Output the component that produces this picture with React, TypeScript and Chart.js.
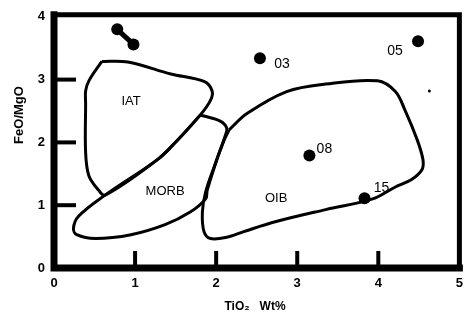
import React, { useEffect, useRef } from "react";
import { Chart, registerables } from "chart.js";

Chart.register(...registerables);

// Axis ticks and titles
const X_TICKS = [0, 1, 2, 3, 4, 5];
const Y_TICKS = [0, 1, 2, 3, 4];
const X_TITLE = "TiO₂   Wt%";
const Y_TITLE = "FeO/MgO";

// Samples
const SAMPLE_NAMES = ["03", "05", "08", "15"];
const SAMPLE_TIO2 = [2.54, 4.49, 3.15, 3.83];
const SAMPLE_FEO_MGO = [3.34, 3.61, 1.79, 1.11];

// Discrimination fields (outlines)
const IAT_X = [0.59, 0.91, 1.44, 1.85, 1.95, 1.93, 1.8, 1.49, 1.28, 0.63, 0.55, 0.43, 0.39, 0.39, 0.39, 0.43, 0.59];
const IAT_Y = [3.29, 3.28, 3.09, 2.97, 2.82, 2.67, 2.43, 1.99, 1.73, 1.16, 1.24, 1.47, 1.84, 2.62, 2.82, 2.98, 3.29];

const MORB_X = [1.8, 1.85, 2.05, 2.13, 2.11, 2.01, 1.89, 1.87, 1.68, 1.37, 0.95, 0.51, 0.28, 0.24, 0.3, 0.63, 1.28, 1.49, 1.8];
const MORB_Y = [2.43, 2.42, 2.34, 2.23, 2.1, 1.73, 1.24, 1.1, 0.89, 0.69, 0.53, 0.47, 0.53, 0.63, 0.82, 1.16, 1.73, 1.99, 2.43];

const OIB_X = [2.16, 2.38, 2.87, 3.35, 3.99, 4.21, 4.33, 4.48, 4.55, 4.54, 4.41, 4.21, 3.93, 3.35, 2.74, 2.34, 2.13, 1.93, 1.85, 1.83, 1.87, 1.98, 2.1, 2.16];
const OIB_Y = [2.2, 2.46, 2.81, 2.93, 2.98, 2.81, 2.51, 2.04, 1.73, 1.57, 1.41, 1.29, 1.1, 0.93, 0.74, 0.58, 0.49, 0.47, 0.58, 0.89, 1.21, 1.63, 2.04, 2.2];

const FIELD_NAMES = ["IAT", "MORB", "OIB"];
const FIELD_LABEL_X = [0.95, 1.37, 2.74];
const FIELD_LABEL_Y = [2.65, 1.22, 1.1];

// Bow-tie mark near top-left and speck
const MARK_X = [0.78, 0.98];
const MARK_Y = [3.8, 3.56];
const SPECK_X = [4.63];
const SPECK_Y = [2.82];

// label offsets (px) relative to sample points
const SAMPLE_LABEL_OFFSET: [number, number][] = [
  [22, 6],
  [-23, 10],
  [15, -6],
  [17, -10],
];

const FONT = '"Liberation Sans", Arial, sans-serif';

const toPts = (xs: number[], ys: number[]) => xs.map((x, i) => ({ x, y: ys[i] }));

const framePlugin = {
  id: "frame",
  afterDraw(chart: any) {
    const { ctx, chartArea: a, scales } = chart;
    const xs = scales.x;
    const ys = scales.y;
    ctx.save();
    ctx.strokeStyle = "#000";
    ctx.fillStyle = "#000";
    // frame: thick left/bottom, slightly thinner top/right
    ctx.lineCap = "square";
    ctx.lineWidth = 5;
    ctx.beginPath();
    ctx.moveTo(a.left, a.top - 2);
    ctx.lineTo(a.right, a.top - 2);
    ctx.lineTo(a.right, a.bottom);
    ctx.stroke();
    ctx.lineWidth = 7;
    ctx.beginPath();
    ctx.moveTo(a.left, a.top - 2);
    ctx.lineTo(a.left, a.bottom);
    ctx.lineTo(a.right, a.bottom);
    ctx.stroke();
    // inward ticks
    ctx.lineWidth = 4;
    ctx.lineCap = "butt";
    X_TICKS.slice(1, -1).forEach((v) => {
      const px = xs.getPixelForValue(v);
      ctx.beginPath();
      ctx.moveTo(px, a.bottom);
      ctx.lineTo(px, a.bottom - 17);
      ctx.stroke();
    });
    Y_TICKS.slice(1, -1).forEach((v) => {
      const py = ys.getPixelForValue(v);
      ctx.beginPath();
      ctx.moveTo(a.left, py);
      ctx.lineTo(a.left + 22, py);
      ctx.stroke();
    });
    // field labels
    ctx.textAlign = "center";
    ctx.textBaseline = "middle";
    ctx.font = `13px ${FONT}`;
    FIELD_NAMES.forEach((n, i) => {
      ctx.fillText(n, xs.getPixelForValue(FIELD_LABEL_X[i]), ys.getPixelForValue(FIELD_LABEL_Y[i]));
    });
    // sample labels
    ctx.font = `14px ${FONT}`;
    SAMPLE_NAMES.forEach((n, i) => {
      const [dx, dy] = SAMPLE_LABEL_OFFSET[i];
      ctx.fillText(n, xs.getPixelForValue(SAMPLE_TIO2[i]) + dx, ys.getPixelForValue(SAMPLE_FEO_MGO[i]) + dy);
    });
    // axis titles
    ctx.font = `bold 12px ${FONT}`;
    ctx.fillText(X_TITLE, 255, 307);
    ctx.save();
    ctx.translate(19, 115);
    ctx.rotate(-Math.PI / 2);
    ctx.font = `bold 13px ${FONT}`;
    ctx.fillText(Y_TITLE, 0, 0);
    ctx.restore();
    ctx.restore();
  },
};

export default function App() {
  const ref = useRef<HTMLCanvasElement | null>(null);

  useEffect(() => {
    if (!ref.current) return;
    const outline = (label: string, xs: number[], ys: number[]) => ({
      label,
      data: toPts(xs, ys),
      showLine: true,
      borderColor: "#000",
      borderWidth: 3,
      pointRadius: 0,
      tension: 0.35,
      fill: false,
    });
    const chart = new Chart(ref.current, {
      type: "scatter",
      data: {
        datasets: [
          outline("IAT", IAT_X, IAT_Y),
          outline("MORB", MORB_X, MORB_Y),
          outline("OIB", OIB_X, OIB_Y),
          {
            label: "mark",
            data: toPts(MARK_X, MARK_Y),
            showLine: true,
            borderColor: "#000",
            borderWidth: 5,
            pointRadius: 6,
            pointBackgroundColor: "#000",
            pointBorderWidth: 0,
          },
          {
            label: "speck",
            data: toPts(SPECK_X, SPECK_Y),
            pointRadius: 1.5,
            pointBackgroundColor: "#000",
            pointBorderWidth: 0,
          },
          {
            label: "samples",
            data: toPts(SAMPLE_TIO2, SAMPLE_FEO_MGO),
            pointRadius: 6,
            pointBackgroundColor: "#000",
            pointBorderWidth: 0,
          },
        ] as any,
      },
      options: {
        responsive: false,
        animation: false,
        layout: { padding: { top: 12, right: 6, left: 0, bottom: 0 } },
        plugins: { legend: { display: false }, tooltip: { enabled: false } },
        events: [],
        scales: {
          x: {
            type: "linear",
            min: 0,
            max: 5,
            afterFit: (s: any) => {
              s.height = 51;
            },
            afterBuildTicks: (s: any) => {
              s.ticks = X_TICKS.map((v) => ({ value: v }));
            },
            grid: { display: false, drawTicks: false },
            border: { display: false },
            ticks: {
              padding: 8,
              color: "#000",
              font: { family: FONT, size: 13, weight: "bold" },
            },
          },
          y: {
            type: "linear",
            min: 0,
            max: 4,
            afterFit: (s: any) => {
              s.width = 54;
            },
            afterBuildTicks: (s: any) => {
              s.ticks = Y_TICKS.map((v) => ({ value: v }));
            },
            grid: { display: false, drawTicks: false },
            border: { display: false },
            ticks: {
              padding: 9,
              color: "#000",
              font: { family: FONT, size: 13, weight: "bold" },
            },
          },
        },
      } as any,
      plugins: [framePlugin],
    });
    return () => chart.destroy();
  }, []);

  return (
    <div style={{ position: "fixed", left: 0, top: 0, width: 471, height: 319, background: "#fff" }}>
      <canvas ref={ref} width={471} height={319} style={{ display: "block" }} />
    </div>
  );
}
